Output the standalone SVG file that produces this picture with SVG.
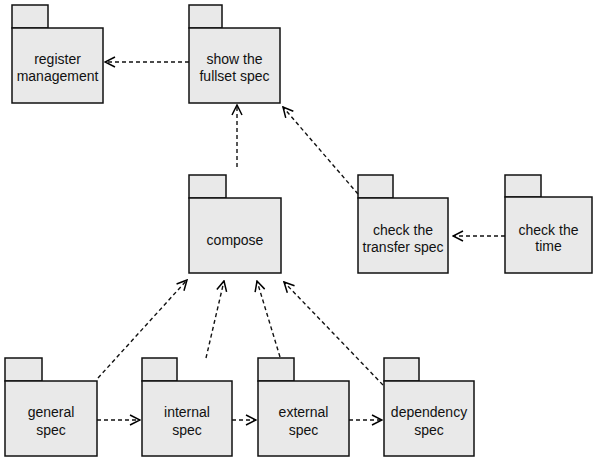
<svg xmlns="http://www.w3.org/2000/svg" width="594" height="459" viewBox="0 0 594 459">
<defs>
<marker id="open" viewBox="0 0 12 12" refX="11" refY="6" markerWidth="12" markerHeight="12" markerUnits="userSpaceOnUse" orient="auto">
<path d="M1,1 L11,6 L1,11" fill="none" stroke="#000" stroke-width="1.5"/>
</marker>
</defs>
<style>
.pk{fill:#e9e9e9;stroke:#111;stroke-width:1.5}
.t{font-family:"Liberation Sans",Arial,sans-serif;font-size:14px;fill:#111;text-anchor:middle}
.c{fill:none;stroke:#111;stroke-width:1.4;stroke-dasharray:4 3;marker-end:url(#open)}
</style>
<rect width="594" height="459" fill="#fff"/>
<g id="register">
<rect class="pk" x="12" y="5" width="36" height="23"/>
<rect class="pk" x="12" y="28" width="91" height="75"/>
<text class="t" x="57.5" y="64">register</text>
<text class="t" x="57.5" y="81">management</text>
</g>
<g id="fullset">
<rect class="pk" x="189" y="5" width="33" height="23"/>
<rect class="pk" x="189" y="28" width="91" height="75"/>
<text class="t" x="234.5" y="64">show the</text>
<text class="t" x="234.5" y="81">fullset spec</text>
</g>
<g id="compose">
<rect class="pk" x="189" y="175" width="37" height="23"/>
<rect class="pk" x="189" y="198" width="92" height="75"/>
<text class="t" x="235" y="245">compose</text>
</g>
<g id="transfer">
<rect class="pk" x="358" y="175" width="35" height="23"/>
<rect class="pk" x="358" y="198" width="90" height="75"/>
<text class="t" x="403" y="235">check the</text>
<text class="t" x="403" y="252">transfer spec</text>
</g>
<g id="time">
<rect class="pk" x="505" y="175" width="36" height="22"/>
<rect class="pk" x="505" y="197" width="87" height="76"/>
<text class="t" x="548.5" y="235">check the</text>
<text class="t" x="548.5" y="251">time</text>
</g>
<g id="general">
<rect class="pk" x="5" y="358" width="37" height="23"/>
<rect class="pk" x="5" y="381" width="92" height="75"/>
<text class="t" x="51" y="417">general</text>
<text class="t" x="51" y="435">spec</text>
</g>
<g id="internal">
<rect class="pk" x="142" y="358" width="35" height="23"/>
<rect class="pk" x="142" y="381" width="90" height="75"/>
<text class="t" x="187" y="417">internal</text>
<text class="t" x="187" y="435">spec</text>
</g>
<g id="external">
<rect class="pk" x="258" y="358" width="36" height="23"/>
<rect class="pk" x="258" y="381" width="91" height="75"/>
<text class="t" x="303.5" y="417">external</text>
<text class="t" x="303.5" y="435">spec</text>
</g>
<g id="dependency">
<rect class="pk" x="384" y="358" width="35" height="23"/>
<rect class="pk" x="384" y="381" width="90" height="75"/>
<text class="t" x="429" y="417">dependency</text>
<text class="t" x="429" y="435">spec</text>
</g>
<g id="connectors">
<path class="c" d="M189,62 L105,62"/>
<path class="c" d="M237,167 L237,105"/>
<path class="c" d="M358,194 L283,107"/>
<path class="c" d="M505,236 L453,236"/>
<path class="c" d="M98,378 L187,280"/>
<path class="c" d="M206,358 L224,281"/>
<path class="c" d="M280,357 L257,281"/>
<path class="c" d="M383,385 L284,282"/>
<path class="c" d="M97,420 L140,420"/>
<path class="c" d="M232,420 L256,420"/>
<path class="c" d="M349,420 L382,420"/>
</g>
</svg>
